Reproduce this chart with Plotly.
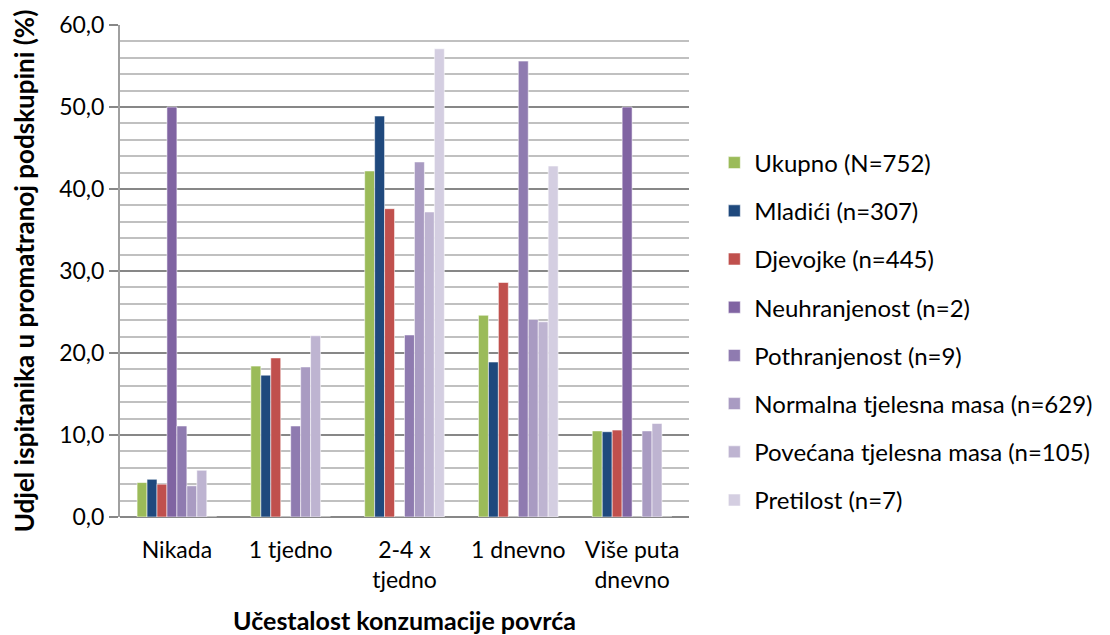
import plotly.graph_objects as go

categories = ["Nikada", "1 tjedno", "2-4 x<br>tjedno", "1 dnevno", "Više puta<br>dnevno"]

series_names = [
    "Ukupno (N=752)",
    "Mladići (n=307)",
    "Djevojke (n=445)",
    "Neuhranjenost (n=2)",
    "Pothranjenost (n=9)",
    "Normalna tjelesna masa (n=629)",
    "Povećana tjelesna masa (n=105)",
    "Pretilost (n=7)",
]

ukupno = [4.2, 18.4, 42.2, 24.6, 10.5]
mladici = [4.6, 17.3, 48.9, 18.9, 10.4]
djevojke = [4.0, 19.4, 37.6, 28.6, 10.6]
neuhranjenost = [50.0, 0.0, 0.0, 0.0, 50.0]
pothranjenost = [11.1, 11.1, 22.2, 55.6, 0.0]
normalna = [3.8, 18.3, 43.3, 24.1, 10.5]
povecana = [5.7, 22.1, 37.2, 23.8, 11.4]
pretilost = [0.0, 0.0, 57.1, 42.8, 0.0]

series_values = [ukupno, mladici, djevojke, neuhranjenost, pothranjenost, normalna, povecana, pretilost]
colors = ["#9BBB59", "#1F497D", "#C0504D", "#8064A2", "#8F7BB0", "#A99BC2", "#BEB4D1", "#D4CEE1"]

FONT = "Lato, Carlito, Calibri, sans-serif"
FS = 23

fig = go.Figure()
for i, (name, vals, col) in enumerate(zip(series_names, series_values, colors)):
    fig.add_trace(go.Bar(
        x=categories, y=vals, name=name,
        marker=dict(color=col, line=dict(color="rgba(255,255,255,0.55)", width=1)),
        legendgroup=f"g{i}",
    ))

fig.update_layout(
    width=1102, height=627,
    margin=dict(l=112, r=417, t=17, b=118),
    paper_bgcolor="white", plot_bgcolor="white",
    barmode="group", bargap=0.30, bargroupgap=0,
    separators=",.",
    font=dict(family=FONT, size=FS, color="#000000"),
    legend=dict(
        x=1.0445, xanchor="left", y=0.377, yanchor="middle",
        font=dict(family=FONT, size=24, color="#000000"),
        tracegroupgap=14,
        bgcolor="rgba(0,0,0,0)",
    ),
    xaxis=dict(
        automargin=False,
        showgrid=False, showline=False, ticks="",
        tickfont=dict(family=FONT, size=FS),
        ticklabelstandoff=17,
        title=dict(text="<b>Učestalost konzumacije povrća</b>", font=dict(family=FONT, size=25), standoff=26),
    ),
    yaxis=dict(
        automargin=False,
        range=[0, 60], dtick=10, tickformat=".1f",
        showgrid=True, gridcolor="#878787", gridwidth=2,
        minor=dict(dtick=2, showgrid=True, gridcolor="#C0C0C0", gridwidth=1.5),
        zeroline=True, zerolinecolor="#878787", zerolinewidth=2,
        showline=True, linecolor="#A0A0A0", linewidth=2,
        ticks="outside", ticklen=9, tickcolor="#878787", tickwidth=2,
        tickfont=dict(family=FONT, size=FS),
        title=dict(text="<b>Udjel ispitanika u promatranoj podskupini (%)</b>", font=dict(family=FONT, size=26), standoff=22),
    ),
)

fig.write_html("out.html")
